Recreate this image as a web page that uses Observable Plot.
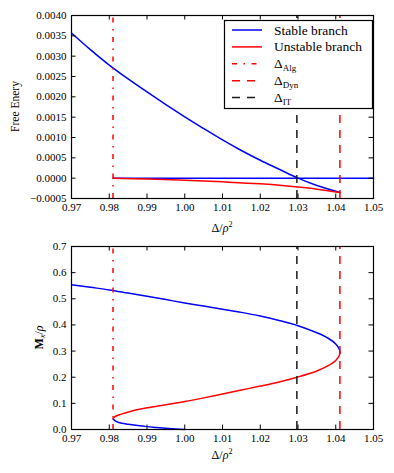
<!DOCTYPE html>
<html><head><meta charset="utf-8">
<script src="https://cdn.jsdelivr.net/npm/d3@7"></script>
<script src="https://cdn.jsdelivr.net/npm/@observablehq/plot@0.6"></script>
<style>
body{margin:0;background:#fff;}
#chart{position:relative;width:394px;height:473px;}
#chart svg{display:block;}
#chart text{font-family:"Liberation Serif","DejaVu Serif",serif;}
#legend{position:absolute;left:0;top:0;pointer-events:none;}
</style></head><body><div id="chart"></div>
<script>
// ---- data (Δ/ρ², value) ----
const stableFE = [[0.970,0.00357],[0.975,0.00316],[0.980,0.00278],[0.985,0.00244],[0.990,0.00212],[0.995,0.00181],[1.000,0.00151],[1.005,0.00122],[1.010,0.00094],[1.015,0.00068],[1.020,0.00044],[1.025,0.00022],[1.030,0.00000],[1.035,-0.00018],[1.0411,-0.00035]];
const zeroFE = [[0.981,0],[1.05,0]];
const unstableFE = [[0.981,0],[0.990,-0.00002],[1.000,-0.00005],[1.010,-0.00009],[1.020,-0.00014],[1.030,-0.00022],[1.035,-0.00027],[1.0411,-0.00035]];

const stableUpperM = [[0.970,0.554],[0.975,0.544],[0.980,0.534],[0.985,0.522],[0.990,0.510],[0.995,0.497],[1.000,0.484],[1.005,0.472],[1.010,0.460],[1.015,0.448],[1.020,0.434],[1.025,0.417],[1.030,0.397],[1.035,0.370],[1.038,0.349],[1.040,0.327],[1.041,0.305],[1.0411,0.295]];
const unstableM = [[1.0411,0.295],[1.041,0.285],[1.040,0.264],[1.038,0.244],[1.035,0.224],[1.030,0.201],[1.025,0.182],[1.020,0.166],[1.015,0.151],[1.010,0.136],[1.005,0.121],[1.000,0.107],[0.995,0.095],[0.990,0.083],[0.986,0.071],[0.983,0.058],[0.9815,0.049],[0.981,0.041]];
const stableLowerM = [[0.981,0.041],[0.9815,0.034],[0.9825,0.027],[0.985,0.020],[0.9875,0.015],[0.990,0.011],[0.9925,0.008],[0.995,0.005],[0.9975,0.002],[1.000,0.000]];

const deltaAlg = 0.9810, deltaIT = 1.0297, deltaDyn = 1.0411;

const xTicks = [0.97,0.98,0.99,1.00,1.01,1.02,1.03,1.04,1.05];
const yTicksFE = [-0.0005,0,0.0005,0.0010,0.0015,0.0020,0.0025,0.0030,0.0035,0.0040];
const yTicksM = [0,0.1,0.2,0.3,0.4,0.5,0.6,0.7];

const legendLabels = [["Stable branch",""],["Unstable branch",""],["Δ","Alg"],["Δ","Dyn"],["Δ","IT"]];

// ---- styling ----
const BLUE = "#0000ff", RED = "#ff0000", BLACK = "#000000";
const DASH = "8,7", DASHDOT = "5,6.5,1.5,6.5";
const W = 394, ML = 71, MR = 21;
const font = "Liberation Serif, DejaVu Serif, serif";

function panel({height, mt, mb, yDomain, yTicks, yFmt, curves}) {
  const ph = height - mt - mb, pw = W - ML - MR, tl = 4.5;
  return Plot.plot({
    width: W, height, marginTop: mt, marginBottom: mb, marginLeft: ML, marginRight: MR,
    style: {fontFamily: font, fontSize: "11px", background: "white", color: "black", overflow: "visible"},
    x: {domain: [0.97, 1.05]},
    y: {domain: yDomain},
    marks: [
      ...curves,
      Plot.ruleX([deltaAlg], {x: d => d, y1: yDomain[0], y2: yDomain[1], stroke: RED, strokeWidth: 1.5, strokeDasharray: DASHDOT}),
      Plot.ruleX([deltaIT], {x: d => d, y1: yDomain[0], y2: yDomain[1], stroke: "#1a1a1a", strokeWidth: 1.5, strokeDasharray: DASH}),
      Plot.ruleX([deltaDyn], {x: d => d, y1: yDomain[0], y2: yDomain[1], stroke: RED, strokeWidth: 1.5, strokeDasharray: DASH}),
      Plot.tickX(xTicks, {x: d => d, insetTop: ph - tl, stroke: BLACK}),
      Plot.tickX(xTicks, {x: d => d, insetBottom: ph - tl, stroke: BLACK}),
      Plot.tickY(yTicks, {y: d => d, insetRight: pw - tl, stroke: BLACK}),
      Plot.tickY(yTicks, {y: d => d, insetLeft: pw - tl, stroke: BLACK}),
      Plot.frame({stroke: BLACK, strokeWidth: 1.2}),
      Plot.axisX(xTicks, {tickSize: 0, tickPadding: 5, tickFormat: d3.format(".2f"), label: null, fontFamily: font, fontSize: 11}),
      Plot.axisY(yTicks, {tickSize: 0, tickPadding: 5, tickFormat: yFmt, label: null, fontFamily: font, fontSize: 11})
    ]
  });
}

const lineOpts = (stroke) => ({stroke, strokeWidth: 1.5, curve: "catmull-rom"});

const topPlot = panel({
  height: 235, mt: 15, mb: 37,
  yDomain: [-0.0005, 0.004], yTicks: yTicksFE, yFmt: d3.format(".4f"),
  curves: [
    Plot.line(stableFE, lineOpts(BLUE)),
    Plot.line(zeroFE, lineOpts(BLUE)),
    Plot.line(unstableFE, lineOpts(RED))
  ]
});
const botPlot = panel({
  height: 238, mt: 11, mb: 44,
  yDomain: [0, 0.7], yTicks: yTicksM, yFmt: d3.format(".1f"),
  curves: [
    Plot.line(stableUpperM, lineOpts(BLUE)),
    Plot.line(stableLowerM, lineOpts(BLUE)),
    Plot.line(unstableM, lineOpts(RED))
  ]
});

const chart = document.getElementById("chart");
chart.appendChild(topPlot);
chart.appendChild(botPlot);

// axis labels
function xLabel(svg, cx, cy) {
  const t = d3.select(svg).append("text").attr("x", cx).attr("y", cy)
    .attr("text-anchor", "middle").attr("dominant-baseline", "central")
    .attr("font-family", font).attr("font-size", 12).attr("fill", "black");
  t.append("tspan").text("Δ/");
  t.append("tspan").attr("font-style", "italic").text("ρ");
  t.append("tspan").attr("font-size", 8).attr("dy", -4.5).text("2");
}
xLabel(topPlot, 222, 228);
xLabel(botPlot, 222, 220);

d3.select(topPlot).append("text")
  .attr("transform", "translate(15,106.5) rotate(-90)")
  .attr("text-anchor", "middle").attr("dominant-baseline", "central")
  .attr("font-family", font).attr("font-size", 11.5).attr("fill", "black")
  .text("Free Enery");

{
  const t = d3.select(botPlot).append("text")
    .attr("transform", "translate(39,102.5) rotate(-90)")
    .attr("text-anchor", "middle").attr("dominant-baseline", "central")
    .attr("font-family", font).attr("font-size", 12).attr("fill", "black");
  t.append("tspan").attr("font-weight", "bold").text("M");
  t.append("tspan").attr("font-style", "italic").attr("font-size", 8.5).attr("dy", 3).text("x");
  t.append("tspan").attr("dy", -3).text("/");
  t.append("tspan").attr("font-style", "italic").text("ρ");
}

// legend overlay
const leg = d3.select(chart).append("svg").attr("id", "legend")
  .attr("width", W).attr("height", 235);
leg.append("rect").attr("x", 224.5).attr("y", 20.5).attr("width", 148).attr("height", 88)
  .attr("fill", "white").attr("stroke", "black").attr("stroke-width", 1.2);
const legStyles = [
  {stroke: BLUE, dash: null},
  {stroke: RED, dash: null},
  {stroke: RED, dash: DASHDOT},
  {stroke: RED, dash: DASH},
  {stroke: "#1a1a1a", dash: DASH}
];
legendLabels.forEach((lab, i) => {
  const cy = 30 + i * 16.9;
  leg.append("line").attr("x1", 232).attr("x2", 262).attr("y1", cy).attr("y2", cy)
    .attr("stroke", legStyles[i].stroke).attr("stroke-width", 1.5)
    .attr("stroke-dasharray", legStyles[i].dash);
  const t = leg.append("text").attr("x", 274).attr("y", cy + 4.5)
    .attr("font-family", font).attr("font-size", 13.5).attr("fill", "black");
  t.append("tspan").text(lab[0]);
  if (lab[1]) t.append("tspan").attr("font-size", 9).attr("dy", 3).text(lab[1]);
});
</script>
</body></html>
